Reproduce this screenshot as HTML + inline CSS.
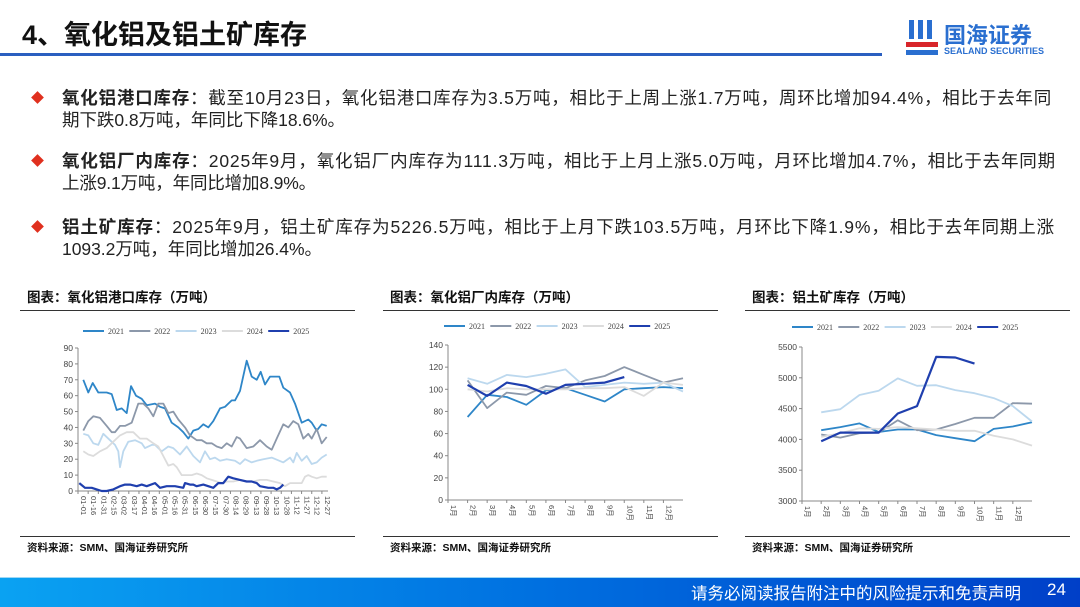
<!DOCTYPE html>
<html><head><meta charset="utf-8">
<style>
body{margin:0;width:1080px;height:607px;overflow:hidden;background:#fff;font-family:"Liberation Sans","Noto Sans CJK SC",sans-serif;position:relative}
.abs{position:absolute;white-space:nowrap}
.t{font-size:17.5px;color:#222;left:62px;line-height:22px}
.dia{position:absolute;left:33px;width:9px;height:9px;background:#e0301e;transform:rotate(45deg)}
</style></head><body>
<div class="abs" style="left:22px;top:13px;font-size:27px;font-weight:bold;color:#111">4、氧化铝及铝土矿库存</div>
<div class="abs" style="left:0;top:53px;width:882px;height:3px;background:#2a5fc0"></div>
<svg class="abs" style="left:906px;top:18px" width="40" height="42"><rect x="3" y="2" width="5" height="19" fill="#2a6fd0"/><rect x="12" y="2" width="5" height="19" fill="#2a6fd0"/><rect x="21" y="2" width="5" height="19" fill="#2a6fd0"/><rect x="0" y="24" width="32" height="5" fill="#d8252a"/><rect x="0" y="32" width="32" height="5" fill="#2a6fd0"/></svg>
<div class="abs" style="left:944px;top:18px;font-size:22px;font-weight:bold;color:#2a6fd0">国海证券</div>
<div class="abs" style="left:944px;top:46px;font-size:9px;font-weight:bold;color:#2a6fd0">SEALAND SECURITIES</div>

<div class="dia" style="top:93px"></div>
<div class="abs t" data-w="990" style="top:87px"><b>氧化铝港口库存</b>：截至10月23日，氧化铝港口库存为3.5万吨，相比于上周上涨1.7万吨，周环比增加94.4%，相比于去年同</div>
<div class="abs t" data-w="283" style="top:109px">期下跌0.8万吨，年同比下降18.6%。</div>
<div class="dia" style="top:156px"></div>
<div class="abs t" data-w="994" style="top:150px"><b>氧化铝厂内库存</b>：2025年9月，氧化铝厂内库存为111.3万吨，相比于上月上涨5.0万吨，月环比增加4.7%，相比于去年同期</div>
<div class="abs t" data-w="254" style="top:172px">上涨9.1万吨，年同比增加8.9%。</div>
<div class="dia" style="top:222px"></div>
<div class="abs t" data-w="993" style="top:216px"><b>铝土矿库存</b>：2025年9月，铝土矿库存为5226.5万吨，相比于上月下跌103.5万吨，月环比下降1.9%，相比于去年同期上涨</div>
<div class="abs t" data-w="260" style="top:238px">1093.2万吨，年同比增加26.4%。</div>

<svg id="ch" class="abs" style="left:0;top:0" width="1080" height="607"></svg>

<div class="abs" style="left:0;top:578px;width:1080px;height:29px;background:linear-gradient(90deg,#0aa2f2,#0070e0 50%,#003fc8)"></div>
<div class="abs" style="left:0;top:577px;width:1080px;height:1px;background:#9fd8f5"></div>
<div class="abs" style="left:691px;top:580px;font-size:16.5px;color:#fff">请务必阅读报告附注中的风险提示和免责声明</div>
<div class="abs" style="left:1047px;top:580px;font-size:17px;color:#fff">24</div>

<script>
document.querySelectorAll('.t').forEach(function(e){
 var tw=+e.getAttribute('data-w');var w=e.getBoundingClientRect().width;
 var n=e.textContent.length;var ls=(tw-w)/n;if(ls>1.5)ls=1.5;if(ls<-1.5)ls=-1.5;e.style.letterSpacing=ls+'px';});
var s='';
var C=['#2e86c8','#8c98aa','#bcd8ee','#dcdcdc','#1f3fae'];
var F='font-family="Liberation Sans,Noto Sans CJK SC,sans-serif"';
function chart(ox,o){
 s+='<text x="'+(ox+7)+'" y="302" font-size="13.5" font-weight="bold" fill="#111" '+F+'>'+o.title+'</text>';
 s+='<line x1="'+(ox+0)+'" y1="310.5" x2="'+(ox+o.w)+'" y2="310.5" stroke="#333" stroke-width="1"/>';
 s+='<line x1="'+(ox+0)+'" y1="536.5" x2="'+(ox+o.w)+'" y2="536.5" stroke="#333" stroke-width="1"/>';
 s+='<text x="'+(ox+7)+'" y="551" font-size="10.5" font-weight="bold" fill="#111" '+F+'>资料来源：SMM、国海证券研究所</text>';
 var yrs=['2021','2022','2023','2024','2025'];
 for(var i=0;i<5;i++){var lx=o.lx+i*46.3;
  s+='<line x1="'+lx+'" y1="'+o.ly+'" x2="'+(lx+21)+'" y2="'+o.ly+'" stroke="'+C[i]+'" stroke-width="2"/>';
  s+='<text x="'+(lx+25)+'" y="'+(o.ly+3)+'" font-size="8" fill="#444" font-family="Liberation Serif,serif">'+yrs[i]+'</text>';}
 s+='<line x1="'+o.x0+'" y1="'+o.y1+'" x2="'+o.x0+'" y2="'+o.y0+'" stroke="#888"/>';
 s+='<line x1="'+o.x0+'" y1="'+o.y0+'" x2="'+o.x1+'" y2="'+o.y0+'" stroke="#888"/>';
 for(var k=0;k<o.yt.length;k++){var yy=o.y0-(o.yt[k]-o.vmin)/(o.vmax-o.vmin)*(o.y0-o.y1);
  s+='<line x1="'+(o.x0-3)+'" y1="'+yy+'" x2="'+o.x0+'" y2="'+yy+'" stroke="#888"/>';
  s+='<text x="'+(o.x0-5)+'" y="'+(yy+3)+'" font-size="8.5" fill="#444" text-anchor="end" '+F+'>'+o.yt[k]+'</text>';}
 for(var k=0;k<o.xl.length;k++){var xx=o.x0+k*(o.x1-o.x0)/o.nx;
  s+='<line x1="'+xx+'" y1="'+o.y0+'" x2="'+xx+'" y2="'+(o.y0+3)+'" stroke="#888"/>';
  s+='<text transform="translate('+(xx+3)+','+(o.y0+5)+') rotate(90)" font-size="7.5" fill="#444" '+F+' text-anchor="start">'+o.xl[k]+'</text>';}
 for(var i=0;i<5;i++){var d=o.data[i],p='';
  for(var j=0;j<d.length;j++){var xx=o.fx(d[j][0]),yy=o.y0-(d[j][1]-o.vmin)/(o.vmax-o.vmin)*(o.y0-o.y1);
   p+=(j?'L':'M')+xx.toFixed(1)+' '+yy.toFixed(1);}
  s+='<path d="'+p+'" fill="none" stroke="'+C[i]+'" stroke-width="'+(i==4?2.2:1.8)+'" stroke-linejoin="round"/>';}
}
function pairs(a){var r=[];for(var i=0;i<a.length;i+=2)r.push([a[i+1],a[i]]);return r;}
var d1=[
pairs([70,190,62,205,68,218,62,235,62,260,61,275,51,290,52,305,49,320,66,333,60,348,58,365,54,380,55,405,53,420,52,435,43,455,40,475,37,490,33,505,38,520,39,535,42,550,40,565,44,580,52,600,53,615,57,635,57,645,63,660,82,680,72,695,70,710,75,722,67,735,72,750,72,765,72,778,65,790,62,810,55,825,43,845,45,865,43,875,38,890,42,905,41,920]),
pairs([38,190,44,205,47,220,46,240,41,260,37,275,37,285,41,300,41,315,43,335,55,355,55,370,52,385,47,400,55,415,55,430,49,445,50,460,45,475,40,495,35,510,32,530,32,545,30,560,30,575,28,590,27,605,30,620,28,635,34,650,33,660,27,680,28,700,32,720,28,740,26,755,33,770,42,790,40,805,44,820,42,835,33,850,36,865,33,875,39,890,30,905,34,920]),
pairs([36,190,35,205,30,220,29,235,36,250,32,270,29,285,25,295,15,300,25,310,31,325,32,345,31,355,30,365,27,375,29,395,29,405,25,425,28,445,27,460,23,480,28,500,22,520,18,540,25,555,20,570,21,585,19,600,20,620,19,645,17,660,20,675,18,695,19,710,20,730,21,755,18,790,21,810,18,820,24,830,19,845,22,860,17,875,18,890,21,905,23,920]),
pairs([25,190,23,205,22,220,25,240,27,260,31,280,35,300,37,320,37,340,33,360,33,380,30,400,28,415,22,430,16,445,17,460,15,470,10,485,10,500,10,515,11,530,10,545,8,560,7,575,6,590,5,605,6,620,6,640,7,660,6,680,6,700,7,720,7,740,6,760,5,780,3,795,5,810,5,830,5,845,9,855,10,865,9,875,8,890,9,905,9,920]),
pairs([5,178,2,195,2,215,1,230,0,245,0,260,1,280,3,300,4,315,4,330,3,350,4,365,3,380,5,405,2,420,3,440,3,465,2,490,5,495,4,510,4,520,3,530,4,550,3,565,2,580,5,595,5,610,9,625,8,640,7,660,6,680,6,695,5,710,3,720,2,745,2,760,1,770,2,780,4,790])];
var xl1=['01-01','01-16','01-31','02-15','03-02','03-17','04-01','04-16','05-01','05-16','05-31','06-15','06-30','07-15','07-30','08-14','08-29','09-13','09-28','10-13','10-28','11-12','11-27','12-12','12-27'];
chart(20,{title:'图表：氧化铝港口库存（万吨）',w:335,lx:83,ly:331,x0:78,x1:328,y0:491,y1:348,vmin:0,vmax:90,yt:[0,10,20,30,40,50,60,70,80,90],
 xl:xl1,nx:24.6,fx:function(z){return 20+z/3;},data:d1});
function mk(a){var r=[];for(var i=0;i<a.length;i++)r.push([i+1,a[i]]);return r;}
var mo=['1月','2月','3月','4月','5月','6月','7月','8月','9月','10月','11月','12月'];
chart(383,{title:'图表：氧化铝厂内库存（万吨）',w:335,lx:444,ly:326,x0:448,x1:683,y0:500,y1:345,vmin:0,vmax:140,yt:[0,20,40,60,80,100,120,140],
 xl:mo,nx:12,fx:function(p){return 448+p*235/12;},data:[
 mk([75,95,93,86,99,101,95,89,100,101,102,101]),
 mk([108,83,97,95,103,101,108,112,120,113,106,110]),
 mk([110,105,113,111,114,118,102,104,106,105,106,98]),
 mk([100,98,101,100,100,100,101,101,102,94,106,104]),
 mk([104,94,106,103,96,104,105,106,111])]});
chart(745,{title:'图表：铝土矿库存（万吨）',w:325,lx:792,ly:327,x0:802,x1:1032,y0:501,y1:347,vmin:3000,vmax:5500,yt:[3000,3500,4000,4500,5000,5500],
 xl:mo,nx:12,fx:function(p){return 802+p*230/12;},data:[
 mk([4150,4200,4260,4120,4160,4160,4070,4020,3970,4170,4210,4280]),
 mk([4080,4030,4100,4110,4310,4150,4160,4250,4350,4350,4590,4580]),
 mk([4440,4490,4720,4790,4990,4870,4880,4800,4750,4670,4540,4290]),
 mk([4040,4100,4180,4170,4200,4180,4160,4140,4140,4060,4000,3900]),
 mk([3970,4110,4110,4110,4420,4540,5340,5330,5230])]});
document.getElementById('ch').innerHTML=s;
</script>
</body></html>
